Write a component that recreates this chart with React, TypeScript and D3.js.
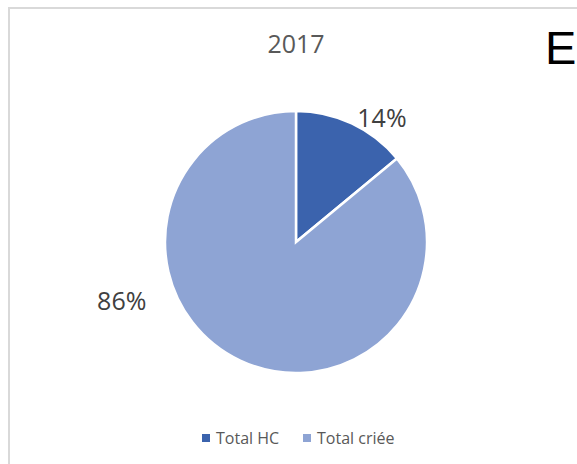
import * as d3 from "d3";

const categories = ["Total HC", "Total criée"];
const values = [14, 86];
const labels = ["14%", "86%"];
const colors = ["#3b63ad", "#8ea4d4"];

const W = 577;
const H = 464;
const cx = 296;
const cy = 242;
const radius = 131;

// where Excel dropped the data labels (angle clockwise from 12 o'clock, distance from centre)
const labelAngle = [34.7, 251.3];
const labelDist = [151, 184];

const App = () => {
  const pie = d3.pie<number>().sort(null).value((d) => d);
  const arcs = pie(values);
  const arc = d3.arc<d3.PieArcDatum<number>>().innerRadius(0).outerRadius(radius);

  const legendX = d3.scalePoint<string>().domain(categories).range([202, 303]);

  const font = "'Open Sans', 'Noto Sans', sans-serif";

  return (
    <svg
      width={W}
      height={H}
      style={{ position: "absolute", left: 0, top: 0, background: "#fff" }}
    >
      <path d={`M9,${H} V8 H${W}`} fill="none" stroke="#d9d9d9" strokeWidth={2} />
      <text x={cx} y={53} textAnchor="middle" fontFamily={font} fontSize={25} fill="#595959">
        2017
      </text>
      <text x={545} y={64} fontFamily="'Liberation Sans', Arial, sans-serif" fontSize={47} fill="#000">
        E
      </text>
      <g transform={`translate(${cx},${cy})`}>
        {arcs.map((a, i) => (
          <path key={i} d={arc(a) ?? ""} fill={colors[i]} stroke="#fff" strokeWidth={2.5} />
        ))}
        {arcs.map((a, i) => {
          const t = (labelAngle[i] * Math.PI) / 180;
          const lx = labelDist[i] * Math.sin(t);
          const ly = -labelDist[i] * Math.cos(t);
          return (
            <text
              key={"l" + i}
              x={lx}
              y={ly + 9}
              textAnchor="middle"
              fontFamily={font}
              fontSize={25}
              fill="#404040"
            >
              {labels[i]}
            </text>
          );
        })}
      </g>
      {categories.map((c, i) => (
        <g key={c} transform={`translate(${legendX(c)},444)`}>
          <rect x={0} y={-10} width={8} height={8} fill={colors[i]} />
          <text x={14} y={0} fontFamily={font} fontSize={16} fill="#595959">
            {c}
          </text>
        </g>
      ))}
    </svg>
  );
};

export default App;
